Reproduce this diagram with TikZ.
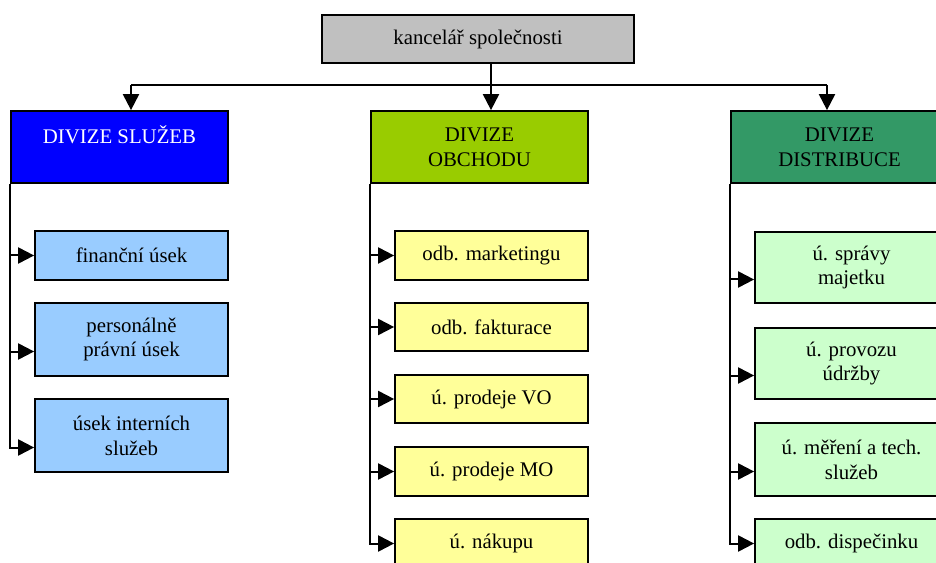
\documentclass[tikz,border=0pt]{standalone}
\usepackage{fontspec}
\setmainfont{Liberation Serif}
\usetikzlibrary{arrows.meta,calc}
\definecolor{topgrey}{HTML}{C0C0C0}
\definecolor{divblue}{HTML}{0000FF}
\definecolor{divlime}{HTML}{99CC00}
\definecolor{divteal}{HTML}{339966}
\definecolor{subblue}{HTML}{99CCFF}
\definecolor{subyellow}{HTML}{FFFF99}
\definecolor{subgreen}{HTML}{CCFFCC}
\tikzset{
  box/.style={draw=black, line width=1.3pt, inner sep=0pt, align=center,
    font=\fontsize{15.6}{18.7}\selectfont},
  wire/.style={line width=1.5pt, black},
  arr/.style={wire, -{Triangle[length=12pt,width=12pt]}},
}
% \orgbox{name}{x1}{y1}{x2}{y2}{style}{text}: box spanning the given corners
\newcommand\orgbox[7]{%
  \node[box, #6, minimum width={(#4-#2)*0.75pt}, minimum height={(#5-#3)*0.75pt}]
    (#1) at ({(#2+#4)/2},{(#3+#5)/2}) {#7};}
\begin{document}
\begin{tikzpicture}[x=0.75pt,y=-0.75pt]
\useasboundingbox (0,0) rectangle (936,563);

% head office
\orgbox{top}{322}{15}{634}{63}{fill=topgrey}{kancelář společnosti}

% divisions
\orgbox{d1}{11}{111}{228}{183}{fill=divblue, text=white}{DIVIZE SLUŽEB\\\mbox{}}
\orgbox{d2}{371}{111}{588}{183}{fill=divlime}{DIVIZE\\OBCHODU}
\orgbox{d3}{731}{111}{948}{183}{fill=divteal}{DIVIZE\\DISTRIBUCE}

% departments of the services division
\orgbox{s11}{35}{231}{228}{280}{fill=subblue}{finanční úsek}
\orgbox{s12}{35}{303}{228}{376}{fill=subblue}{personálně\\právní úsek}
\orgbox{s13}{35}{399}{228}{472}{fill=subblue}{úsek interních\\služeb}

% departments of the trade division
\orgbox{s21}{395}{231}{588}{280}{fill=subyellow}{odb. marketingu}
\orgbox{s22}{395}{303}{588}{351}{fill=subyellow}{odb. fakturace}
\orgbox{s23}{395}{375}{588}{423}{fill=subyellow}{ú. prodeje VO}
\orgbox{s24}{395}{447}{588}{496}{fill=subyellow}{ú. prodeje MO}
\orgbox{s25}{395}{519}{588}{568}{fill=subyellow}{ú. nákupu}

% departments of the distribution division
\orgbox{s31}{755}{232}{948}{303}{fill=subgreen}{ú. správy\\majetku}
\orgbox{s32}{755}{328}{948}{399}{fill=subgreen}{ú. provozu\\údržby}
\orgbox{s33}{755}{423}{948}{496}{fill=subgreen}{ú. měření a tech.\\služeb}
\orgbox{s34}{755}{519}{948}{568}{fill=subgreen}{odb. dispečinku}

% distribution bar below the head office
\coordinate (hub) at (491,85);
\coordinate (b1) at (131,85);
\coordinate (b3) at (827,85);
\draw[wire] (top.south -| hub) -- (hub);
\draw[wire] (b1) -- (b3);
\draw[arr] (b1) -- (b1 |- d1.north);
\draw[arr] (hub) -- (hub |- d2.north);
\draw[arr] (b3) -- (b3 |- d3.north);

% branches to the departments
\draw[arr] (d1.south west) |- (s11.west);
\draw[arr] (d1.south west) |- ([yshift=-9pt]s12.west);
\draw[arr] (d1.south west) |- ([yshift=-9pt]s13.west);

\draw[arr] (d2.south west) |- (s21.west);
\draw[arr] (d2.south west) |- (s22.west);
\draw[arr] (d2.south west) |- (s23.west);
\draw[arr] (d2.south west) |- (s24.west);
\draw[arr] (d2.south west) |- (s25.west);

\draw[arr] (d3.south west) |- ([yshift=-9pt]s31.west);
\draw[arr] (d3.south west) |- ([yshift=-9pt]s32.west);
\draw[arr] (d3.south west) |- ([yshift=-9pt]s33.west);
\draw[arr] (d3.south west) |- (s34.west);
\end{tikzpicture}
\end{document}
